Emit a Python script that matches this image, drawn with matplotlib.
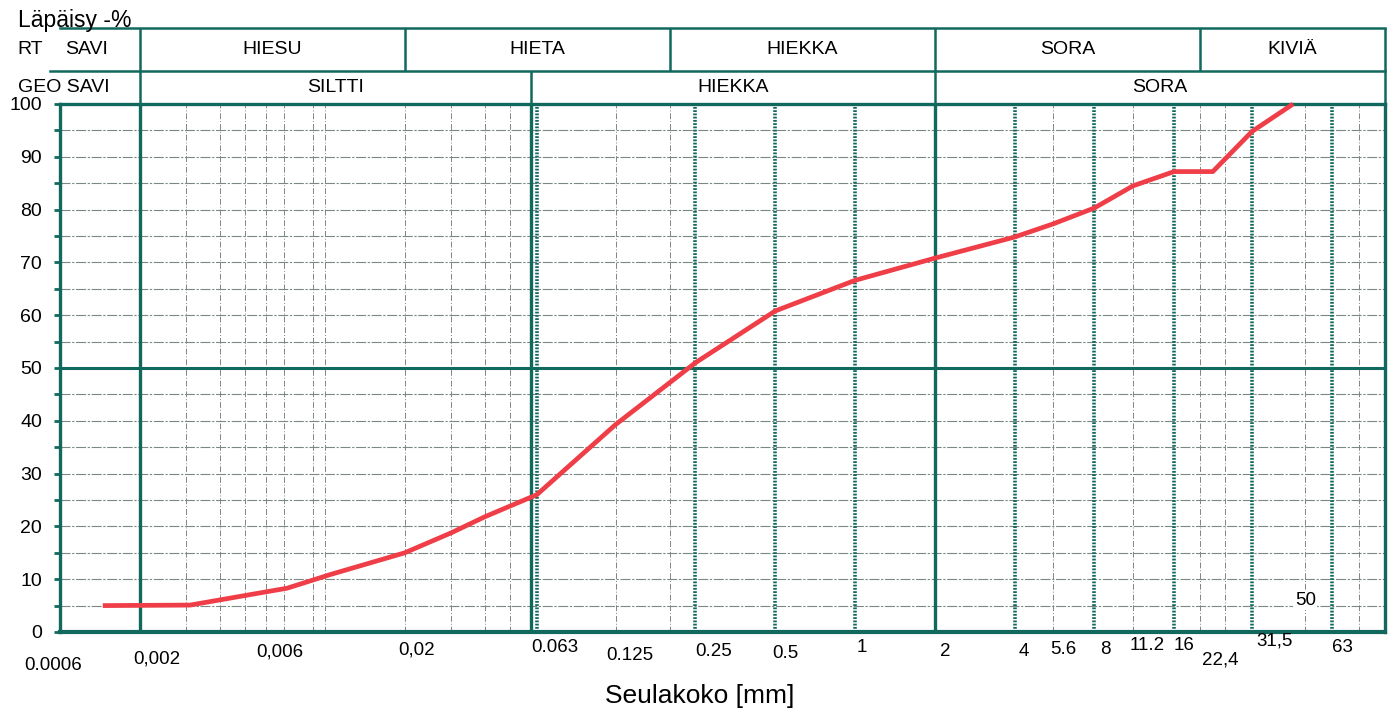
import numpy as np
import matplotlib
matplotlib.use("Agg")
from matplotlib import pyplot as plt

plt.rcParams['font.family'] = ['Liberation Sans', 'DejaVu Sans']

# sieve size (mm) and passing percentage
sieve_mm = [0.00145, 0.0031, 0.0072, 0.0105, 0.02, 0.03, 0.04, 0.063, 0.125,
            0.25, 0.5, 1, 2, 4, 5.6, 8, 11.2, 16, 22.4, 31.5, 45]
passing = [5.0, 5.1, 8.3, 10.9, 15.0, 18.8, 21.8, 26.0, 39.3,
           51.0, 60.8, 66.6, 70.8, 74.8, 77.3, 80.3, 84.5, 87.2, 87.2, 94.8, 100.0]

# x labels under the chart
tick_vals = [0.002, 0.006, 0.02, 0.063, 0.125, 0.25, 0.5, 1, 2, 4, 5.6, 8,
             11.2, 16, 22.4, 31.5, 63]
tick_txt = ['0,002', '0,006', '0,02', '0.063', '0.125', '0.25', '0.5', '1', '2',
            '4', '5.6', '8', '11.2', '16', '22,4', '31,5', '63']
# the scanned sheet has the labels a bit scattered (pixels)
tick_dx = [17, 14, 12, 18, 14, 18, 10, 7, 10, 9, 10, 11, 14, 10, 7, 22, 11]
tick_dy = [-27, -20, -18, -15, -24, -19, -22, -16, -19, -19, -18, -17, -13, -13, -28, -9, -16]

# soil classes in the header
rt_edges = [0.002, 0.02, 0.2, 2, 20, 100]
rt_names = ['HIESU', 'HIETA', 'HIEKKA', 'SORA', 'KIVIÄ']
geo_edges = [0.002, 0.06, 2, 100]
geo_names = ['SILTTI', 'HIEKKA', 'SORA']

# grid lines of the form
solid_x = [0.002, 0.06, 2]
dotted_x = [0.063, 0.25, 0.5, 1, 4, 8, 16, 31.5, 63]
thin_x = [0.003, 0.004, 0.005, 0.006, 0.007, 0.009, 0.01, 0.02, 0.03, 0.04,
          0.05, 0.125, 0.2, 5.6, 11.2, 20, 25, 50, 80]

teal = '#11695d'
grey = '#7d8783'
red = '#ef3e47'

W, H = 1393, 710
L, R, T, B = 60, 1385, 104, 632
fig = plt.figure(figsize=(W / 100, H / 100), dpi=100)
ax = fig.add_axes([L / W, 1 - B / H, (R - L) / W, (B - T) / H])
ax.set_xscale('log')
ax.set_xlim(0.001, 100)
ax.set_ylim(0, 100)

for v in thin_x:
    ax.axvline(v, color=grey, lw=0.7, ls=(0, (6, 2, 1, 2)), zorder=1)
for y in range(5, 100, 5):
    if y != 50:
        ax.axhline(y, color=grey, lw=0.8, ls=(0, (9, 1.5, 2, 1.5)), zorder=1)
ax.axhline(50, color=teal, lw=2.2, zorder=2)
for v in solid_x:
    ax.axvline(v, color=teal, lw=2.4, zorder=2)
for v in dotted_x:
    ax.axvline(v, color=teal, lw=2.6, ls=(0, (0.5, 0.4)), zorder=2)

ax.plot(sieve_mm, passing, color=red, lw=3.4, solid_joinstyle='round',
        solid_capstyle='butt', zorder=5, clip_on=False)

for s in ax.spines.values():
    s.set_color(teal)
    s.set_linewidth(2.4)
ax.spines['bottom'].set_linewidth(3)

ax.set_yticks(range(0, 101, 10))
ax.set_yticks(range(5, 100, 10), minor=True)
ax.tick_params(axis='y', which='both', direction='out', length=4, width=2,
               color=teal, pad=9, labelsize=14)
ax.tick_params(axis='x', which='both', bottom=False, labelbottom=False)

for v, t, dx, dy in zip(tick_vals, tick_txt, tick_dx, tick_dy):
    ax.annotate(t, xy=(v, 0), xycoords=('data', 'axes fraction'),
                xytext=(dx, dy), textcoords='offset pixels',
                ha='center', va='center', fontsize=13.5, annotation_clip=False)
fig.text(53 / W, 1 - 665 / H, '0.0006', ha='center', va='center', fontsize=13.5)
ax.text(50, 6, '50', ha='center', va='center', fontsize=13.5, zorder=4,
        bbox=dict(facecolor='white', edgecolor='none', pad=1))

fig.text(18 / W, 1 - 27 / H, 'Läpäisy -%', ha='left', va='baseline', fontsize=16.5)
fig.text(700 / W, 1 - 703 / H, 'Seulakoko [mm]', ha='center', va='baseline', fontsize=19)

# header with the two classification rows
axh = fig.add_axes([L / W, 1 - T / H, (R - L) / W, (T - 28) / H])
axh.set_xscale('log')
axh.set_xlim(0.001, 100)
axh.set_ylim(0, 1)
axh.axis('off')
mid = (T - 71) / (T - 28)
axh.plot([0, 1], [1, 1], color=teal, lw=1.8, transform=axh.transAxes, clip_on=False)
axh.plot([-0.0075, 1], [mid, mid], color=teal, lw=1.8, transform=axh.transAxes, clip_on=False)
axh.vlines(rt_edges, mid, 1, color=teal, lw=1.8, clip_on=False)
axh.vlines(geo_edges, 0, mid, color=teal, lw=1.8, clip_on=False)

y_rt = (T - 50) / (T - 28)
y_geo = (T - 88) / (T - 28)
for a, b, n in zip(rt_edges[:-1], rt_edges[1:], rt_names):
    axh.text(np.sqrt(a * b), y_rt, n, ha='center', va='center', fontsize=14)
for a, b, n in zip(geo_edges[:-1], geo_edges[1:], geo_names):
    axh.text(np.sqrt(a * b), y_geo, n, ha='center', va='center', fontsize=14)
axh.text(-0.0325, y_rt, 'RT', transform=axh.transAxes, ha='left', va='center', fontsize=14)
axh.text(0.004, y_rt, 'SAVI', transform=axh.transAxes, ha='left', va='center', fontsize=14)
axh.text(-0.0317, y_geo, 'GEO SAVI', transform=axh.transAxes, ha='left', va='center', fontsize=14)

fig.savefig('out.png', dpi=100)
